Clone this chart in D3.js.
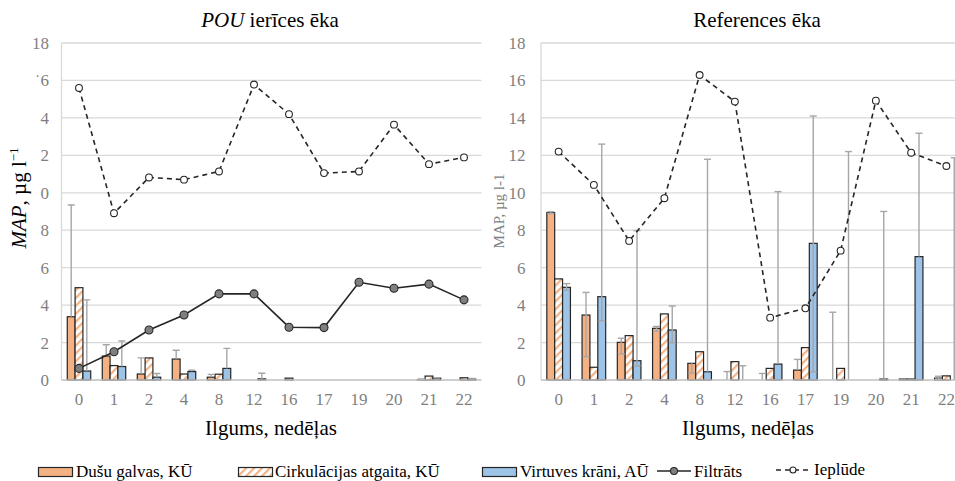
<!DOCTYPE html>
<html>
<head>
<meta charset="utf-8">
<script src="https://cdn.jsdelivr.net/npm/d3@7/dist/d3.min.js"></script>
<style>
  html, body { margin: 0; padding: 0; background: #fff; }
  svg { display: block; }
  text { font-family: "Liberation Serif", "Times New Roman", serif; }
</style>
</head>
<body>
<script>
// Sampling weeks (categorical x axis)
const weeks = ["0", "1", "2", "4", "8", "12", "16", "17", "19", "20", "21", "22"];
const yTicks = [0, 2, 4, 6, 8, 10, 12, 14, 16, 18];
const pouTickText = ["0", "2", "4", "6", "8", "0", "2", "4", "\u02D96", "18"];
const refTickText = ["0", "2", "4", "6", "8", "10", "12", "14", "16", "18"];

// POU building: shower heads, recirculation return, kitchen taps (MAP, µg/l)
const pouShower        = [3.38, 1.28, 0.32, 1.12, 0.15, 0, 0, 0, 0, 0, 0.02, 0];
const pouShowerPlus    = [5.97, 0.60, 0.86, 0.47, 0.15, 0, 0, 0, 0, 0, 0.03, 0];
const pouRecirc        = [4.93, 0.77, 1.18, 0.32, 0.31, 0, 0.10, 0, 0, 0, 0.21, 0.12];
const pouKitchen       = [0.48, 0.72, 0.15, 0.45, 0.62, 0.06, 0, 0, 0, 0, 0.10, 0.05];
const pouKitchenPlus   = [3.80, 1.36, 0.20, 0.07, 1.07, 0.30, 0, 0, 0, 0, 0.02, 0.03];
const pouFiltrate      = [0.62, 1.51, 2.67, 3.47, 4.60, 4.60, 2.82, 2.80, 5.22, 4.90, 5.12, 4.28];
const pouInflow        = [15.60, 8.91, 10.82, 10.70, 11.14, 15.78, 14.20, 11.05, 11.14, 13.64, 11.53, 11.89];

// Reference building
const refShower        = [8.94, 3.47, 2.01, 2.76, 0.89, 0, 0, 0.53, 0, 0, 0.05, 0.10];
const refShowerPlus    = [0.05, 1.21, 0.22, 0.10, 0, 0.45, 0.35, 0.57, 3.62, 0, 0, 0.10];
const refShowerMinus   = [0.05, 2.22, 0.62, 0.15, 0.53, 0, 0, 0, 0, 0, 0, 0.05];
const refRecirc        = [5.40, 0.68, 2.37, 3.53, 1.51, 0.98, 0.62, 1.73, 0.62, 0, 0.05, 0.22];
const refKitchen       = [4.95, 4.45, 1.03, 2.67, 0.44, 0, 0.85, 7.30, 0, 0.05, 6.59, 0];
const refKitchenPlus   = [0.20, 8.15, 6.95, 1.28, 11.35, 0.76, 9.21, 6.80, 12.20, 8.95, 6.59, 11.87];
const refKitchenMinus  = [0.15, 1.28, 0.28, 0.68, 0, 0, 0, 6.86, 0, 0, 0, 0];
const refInflow        = [12.20, 10.42, 7.43, 9.71, 16.29, 14.87, 3.33, 3.83, 6.91, 14.92, 12.14, 11.43];

const W = 955, H = 481;
const FONT = "'Liberation Serif', 'Times New Roman', serif";
const ORANGE = "#f4b183", BLUE = "#9dc3e6", DARK = "#262626";
const GRID = "#d9d9d9", AXISGRAY = "#7f7f7f", ERR = "#a6a6a6";

const svg = d3.select("body").append("svg").attr("width", W).attr("height", H);
svg.append("rect").attr("width", W).attr("height", H).attr("fill", "#fff");

const defs = svg.append("defs");
const hatch = defs.append("pattern")
  .attr("id", "hatch").attr("patternUnits", "userSpaceOnUse")
  .attr("width", 5.6).attr("height", 5.6)
  .attr("patternTransform", "rotate(45)");
hatch.append("rect").attr("width", 5.6).attr("height", 5.6).attr("fill", "#fff");
hatch.append("rect").attr("width", 2.2).attr("height", 5.6).attr("fill", ORANGE);

const fills = { shower: ORANGE, recirc: "url(#hatch)", kitchen: BLUE };

function drawPanel(p, idx) {
  const y = d3.scaleLinear().domain([0, 18]).range([380, 43]);
  const x = d3.scaleBand().domain(weeks).range([p.x0, p.x1]);
  const bw = x.bandwidth();
  const sub = d3.scaleBand().domain(["shower", "recirc", "kitchen"]).range([-bw * 0.335, bw * 0.335]);

  const g = svg.append("g");
  const clipId = "clip" + idx;
  defs.append("clipPath").attr("id", clipId)
    .append("rect").attr("x", p.x0 - 10).attr("y", 38).attr("width", p.x1 - p.x0 + 20).attr("height", 344);

  // gridlines
  g.append("g").selectAll("line").data(yTicks.filter(t => t > 0)).join("line")
    .attr("x1", p.x0).attr("x2", p.x1)
    .attr("y1", d => y(d)).attr("y2", d => y(d))
    .attr("stroke", GRID).attr("stroke-width", 1.3);
  g.append("line").attr("x1", p.x0).attr("x2", p.x0).attr("y1", y(18)).attr("y2", y(0))
    .attr("stroke", GRID).attr("stroke-width", 1.3);

  // y axis labels
  const ya = g.append("g").attr("transform", `translate(${p.x0},0)`)
    .call(d3.axisLeft(y).tickValues(yTicks).tickSize(0).tickPadding(p.tickPad)
      .tickFormat((d, i) => p.tickText[i]));
  ya.select(".domain").remove();
  ya.selectAll("text").attr("font-family", FONT).attr("font-size", 17).attr("fill", AXISGRAY);

  // x axis labels
  const xa = g.append("g").attr("transform", `translate(0,${y(0)})`)
    .call(d3.axisBottom(x).tickSize(0).tickPadding(13));
  xa.select(".domain").remove();
  xa.selectAll("text").attr("font-family", FONT).attr("font-size", 17).attr("fill", AXISGRAY);

  const plot = g.append("g").attr("clip-path", `url(#${clipId})`);

  // bars
  p.series.forEach(s => {
    plot.append("g").selectAll("rect")
      .data(s.values.map((v, i) => ({ v, w: weeks[i] })).filter(d => d.v > 0))
      .join("rect")
      .attr("x", d => x(d.w) + bw / 2 + sub(s.key))
      .attr("width", sub.bandwidth())
      .attr("y", d => y(d.v))
      .attr("height", d => y(0) - y(d.v))
      .attr("fill", fills[s.key])
      .attr("stroke", DARK).attr("stroke-width", 1.2);
  });

  // bottom axis line
  g.append("line").attr("x1", p.x0).attr("x2", p.x1).attr("y1", y(0)).attr("y2", y(0))
    .attr("stroke", "#bfbfbf").attr("stroke-width", 1.3);

  // error bars
  p.series.forEach(s => {
    if (!s.plus && !s.minus) return;
    const rows = s.values.map((v, i) => ({
      v, w: weeks[i],
      hi: v + (s.plus ? s.plus[i] : 0),
      lo: Math.max(0, v - (s.minus ? s.minus[i] : 0))
    })).filter(d => d.hi > d.v || d.lo < d.v);
    const eg = plot.append("g").attr("stroke", ERR).attr("stroke-width", 1.4).attr("fill", "none");
    rows.forEach(d => {
      const cx = x(d.w) + bw / 2 + sub(s.key) + sub.bandwidth() / 2;
      eg.append("line").attr("x1", cx).attr("x2", cx).attr("y1", y(d.hi)).attr("y2", y(d.lo));
      if (d.hi > d.v) eg.append("line").attr("x1", cx - 3.5).attr("x2", cx + 3.5).attr("y1", y(d.hi)).attr("y2", y(d.hi));
      if (d.lo < d.v && d.lo > 0) eg.append("line").attr("x1", cx - 3.5).attr("x2", cx + 3.5).attr("y1", y(d.lo)).attr("y2", y(d.lo));
    });
  });

  // lines with markers
  p.lines.forEach(l => {
    const line = d3.line().x((d, i) => x(weeks[i]) + bw / 2).y(d => y(d));
    plot.append("path").datum(l.values)
      .attr("d", line).attr("fill", "none")
      .attr("stroke", DARK).attr("stroke-width", 1.6)
      .attr("stroke-dasharray", l.dashed ? "5,4" : null);
    plot.append("g").selectAll("circle").data(l.values).join("circle")
      .attr("cx", (d, i) => x(weeks[i]) + bw / 2).attr("cy", d => y(d))
      .attr("r", l.dashed ? 3.4 : 4)
      .attr("fill", l.dashed ? "#fff" : "#7f7f7f")
      .attr("stroke", DARK).attr("stroke-width", 1.1);
  });

  // title
  const t = svg.append("text").attr("x", p.titleX).attr("y", 27)
    .attr("text-anchor", "middle").attr("font-family", FONT).attr("font-size", 21).attr("fill", "#000");
  p.title(t);

  // x title
  svg.append("text").attr("x", p.xTitleX).attr("y", 435)
    .attr("text-anchor", "middle").attr("font-family", FONT).attr("font-size", 21).attr("fill", "#000")
    .text("Ilgums, nedēļas");

  p.yLabel();
}

drawPanel({
  x0: 61.5, x1: 481.5, tickPad: 12.5, tickText: pouTickText,
  titleX: 270, xTitleX: 271,
  series: [
    { key: "shower", values: pouShower, plus: pouShowerPlus },
    { key: "recirc", values: pouRecirc },
    { key: "kitchen", values: pouKitchen, plus: pouKitchenPlus }
  ],
  lines: [
    { values: pouFiltrate, dashed: false },
    { values: pouInflow, dashed: true }
  ],
  title: t => {
    t.append("tspan").attr("font-style", "italic").text("POU");
    t.append("tspan").text(" ierīces ēka");
  },
  yLabel: () => {
    const yl = svg.append("text")
      .attr("transform", "translate(26,198) rotate(-90)")
      .attr("text-anchor", "middle").attr("font-family", FONT).attr("font-size", 21).attr("fill", "#000");
    yl.append("tspan").attr("font-style", "italic").text("MAP");
    yl.append("tspan").text(", µg l");
    yl.append("tspan").attr("font-size", 13).attr("dy", -8).text("−1");
  }
}, 0);

drawPanel({
  x0: 541, x1: 964, tickPad: 15.5, tickText: refTickText,
  titleX: 757, xTitleX: 748,
  series: [
    { key: "shower", values: refShower, plus: refShowerPlus, minus: refShowerMinus },
    { key: "recirc", values: refRecirc },
    { key: "kitchen", values: refKitchen, plus: refKitchenPlus, minus: refKitchenMinus }
  ],
  lines: [
    { values: refInflow, dashed: true }
  ],
  title: t => t.text("References ēka"),
  yLabel: () => {
    svg.append("text")
      .attr("transform", "translate(504,211) rotate(-90)")
      .attr("text-anchor", "middle").attr("font-family", FONT).attr("font-size", 15).attr("fill", AXISGRAY)
      .text("MAP, µg l-1");
  }
}, 1);

// legend
const legend = svg.append("g");
const legendItems = [
  { label: "Dušu galvas, KŪ", type: "rect", fill: ORANGE, x: 38.5, tx: 76 },
  { label: "Cirkulācijas atgaita, KŪ", type: "rect", fill: "url(#hatch)", x: 238.5, tx: 275 },
  { label: "Virtuves krāni, AŪ", type: "rect", fill: BLUE, x: 482.5, tx: 520 },
  { label: "Filtrāts", type: "solid", x: 657, tx: 694, ty: 477 },
  { label: "Ieplūde", type: "dashed", x: 776, tx: 814, ty: 475 }
];
legendItems.forEach(it => {
  if (it.type === "rect") {
    legend.append("rect").attr("x", it.x).attr("y", 467.5).attr("width", 34).attr("height", 9)
      .attr("fill", it.fill).attr("stroke", DARK).attr("stroke-width", 1.2);
  } else {
    const ly = it.type === "solid" ? 471 : 470;
    legend.append("line").attr("x1", it.x).attr("x2", it.x + 34).attr("y1", ly).attr("y2", ly)
      .attr("stroke", DARK).attr("stroke-width", 1.6)
      .attr("stroke-dasharray", it.type === "dashed" ? "5,4" : null);
    legend.append("circle").attr("cx", it.x + 17).attr("cy", ly).attr("r", it.type === "dashed" ? 3 : 3.5)
      .attr("fill", it.type === "dashed" ? "#fff" : "#7f7f7f").attr("stroke", DARK).attr("stroke-width", 1.1);
  }
  legend.append("text").attr("x", it.tx).attr("y", it.ty || 477)
    .attr("font-family", FONT).attr("font-size", 17).attr("fill", "#000").text(it.label);
});
</script>
</body>
</html>
